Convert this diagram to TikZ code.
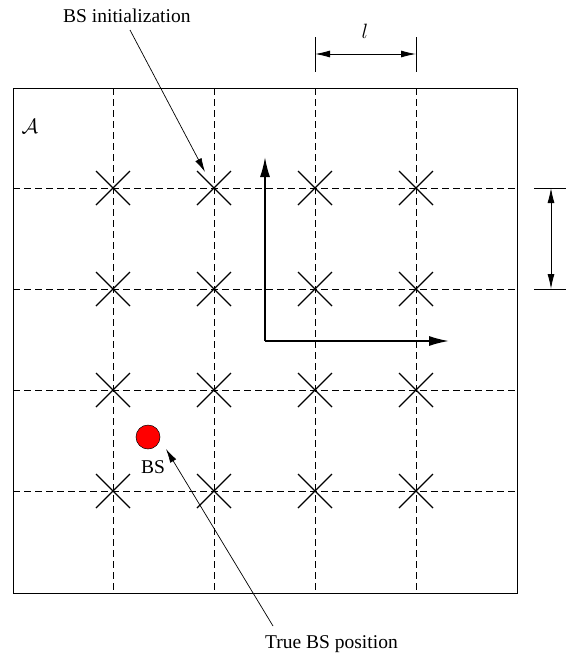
\documentclass[tikz,border=0pt]{standalone}
\usepackage{fontspec}
\setmainfont{Liberation Serif}
\usetikzlibrary{arrows.meta}
\begin{document}
\begin{tikzpicture}[x=1pt,y=-1pt,
  txt/.style={font=\fontsize{19.5}{22}\selectfont, inner sep=0pt},
  grid/.style={dashed, dash pattern=on 7pt off 4pt, line width=0.7pt},
  frame/.style={line width=0.9pt},
  xmark/.style={line width=1.1pt},
  axis/.style={line width=1.6pt, -{Latex[length=20pt,width=10pt]}},
  note/.style={line width=0.7pt, -{Latex[length=14pt,width=7pt]}},
  dim/.style={line width=0.9pt, {Latex[length=15pt,width=7pt]}-{Latex[length=15pt,width=7pt]}}]
\useasboundingbox (0,0) rectangle (566,657);
% area boundary
\draw[frame] (13,88) rectangle (517,593);
% dashed grid
\foreach \x in {113,214,315,416} \draw[grid] (\x,88) -- (\x,593);
\foreach \y in {188,289,390,491} \draw[grid] (13,\y) -- (517,\y);
% grid points
\foreach \x in {113,214,315,416}
  \foreach \y in {188,289,390,491} {
    \draw[xmark] (\x-17,\y-17) -- (\x+17,\y+17);
    \draw[xmark] (\x-17,\y+17) -- (\x+17,\y-17);
  }
% area label
\node[font=\fontsize{19.5}{22}\selectfont] (area) at (30,126) {$\mathcal{A}$};
% horizontal spacing l
\draw[line width=0.9pt] (315,37) -- (315,72) (416,37) -- (416,72);
\coordinate (la) at (315,54);
\coordinate (lb) at (416,54);
\draw[dim] (la) -- (lb);
\node[txt] (ll) at (365,31) {$l$};
% vertical spacing
\draw[line width=0.9pt] (534,188) -- (566,188) (534,289) -- (566,289);
\coordinate (va) at (551,188);
\coordinate (vb) at (551,289);
\draw[dim] (va) -- (vb);
% axes
\coordinate (o) at (265,341);
\coordinate (ay) at (265,157);
\coordinate (ax) at (449,341);
\draw[axis] (o) -- (ay);
\draw[axis] (o) -- (ax);
% base station
\node[circle, fill=red, draw=black, line width=0.5pt, minimum size=24pt, inner sep=0pt] (bs) at (148,437) {};
\node[txt] (bslabel) at (153,467) {BS};
% annotations
\node[txt, anchor=west] (init) at (63,16) {BS initialization};
\coordinate (initfrom) at (130,30);
\coordinate (initto) at (205,172);
\draw[note] (initfrom) -- (initto);
\node[txt, anchor=west] (truepos) at (265,644) {True BS position};
\coordinate (truefrom) at (273,626);
\coordinate (trueto) at (166,449);
\draw[note] (truefrom) -- (trueto);
\end{tikzpicture}
\end{document}
